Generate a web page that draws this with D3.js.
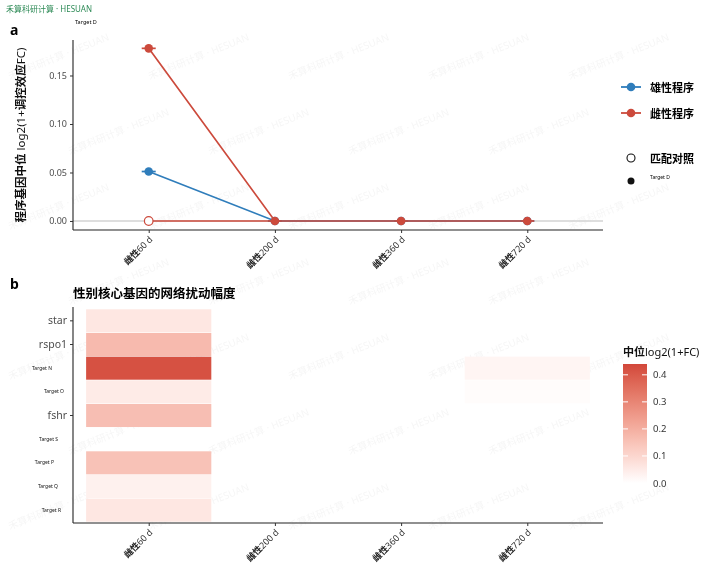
<!DOCTYPE html>
<html><head><meta charset="utf-8">
<script src="https://cdn.jsdelivr.net/npm/d3@7"></script>
<style>
body{margin:0;background:#fff;}
text{font-family:"Noto Sans","Noto Sans CJK SC",sans-serif;}
</style></head>
<body><svg id="c" width="720" height="571"></svg>
<script>
// ---------- data ----------
const timepoints = ["雌性60 d","雌性200 d","雌性360 d","雌性720 d"];
const maleValues = [0.051, 0, 0, 0];
const femaleValues = [0.178, 0, 0, 0];
const controlPoints = [{t:"雌性60 d", v:0}];
const yTicksTop = [0, 0.05, 0.10, 0.15];
const genes = ["star","rspo1","Target N","Target O","fshr","Target S","Target P","Target Q","Target R"];
const geneIsTarget = [false,false,true,true,false,true,true,true,true];
const heatCol1 = [0.06, 0.17, 0.42, 0.05, 0.16, null, 0.15, 0.035, 0.06]; // 雌性60 d
const heatCol4 = [null, null, 0.025, 0.008, null, null, null, null, null]; // 雌性720 d
const legendTicks = [0.0, 0.1, 0.2, 0.3, 0.4];
const seriesNames = ["雄性程序","雌性程序"];

// ---------- layout ----------
const svg = d3.select("#c");
const blue = "#2f7dbb", red = "#cc4a3c";
const L = 73, R = 603;

// watermark
const wm = svg.append("g").attr("opacity",0.07);
for (let r=0;r<7;r++){
  for (let c=0;c<5;c++){
    const x = 10 + c*140 + (r%2)*60, y = 80 + r*75;
    if (x + 120 > 715 || y > 565) continue;
    wm.append("text").attr("transform",`translate(${x},${y}) rotate(-22)`)
      .attr("font-size",10).attr("fill","#777").text("禾算科研计算 · HESUAN");
  }
}
svg.append("text").attr("x",6).attr("y",12).attr("font-size",8).attr("fill","#2e8b57").text("禾算科研计算 · HESUAN");

// ---------- panel a ----------
const x = d3.scalePoint().domain(timepoints).range([L,R]).padding(0.6);
const yA = d3.scaleLinear().domain([-0.0093,0.1866]).range([230,40]);

svg.append("text").attr("x",10).attr("y",35).attr("font-size",14).attr("font-weight","bold").text("a");
svg.append("text").attr("x",75).attr("y",24).attr("font-size",5.5).text("Target D");

const gA = svg.append("g");
gA.append("line").attr("x1",L).attr("x2",R).attr("y1",yA(0)).attr("y2",yA(0)).attr("stroke","#d3d3d3").attr("stroke-width",1.6);

const line = d3.line().x((d,i)=>x(timepoints[i])).y(d=>yA(d));
gA.append("path").datum(maleValues).attr("d",line).attr("fill","none").attr("stroke",blue).attr("stroke-width",1.7);
gA.append("path").datum(femaleValues).attr("d",line).attr("fill","none").attr("stroke",red).attr("stroke-width",1.7);
gA.append("line").attr("x1",x(timepoints[0])).attr("x2",x(timepoints[1])).attr("y1",yA(0)).attr("y2",yA(0)).attr("stroke",red).attr("stroke-width",1.7);

[[maleValues,blue],[femaleValues,red]].forEach(([vals,col])=>{
  vals.forEach((v,i)=>{
    const cx = x(timepoints[i]);
    gA.append("line").attr("x1",cx-7).attr("x2",cx+7).attr("y1",yA(v)).attr("y2",yA(v)).attr("stroke",col).attr("stroke-width",1.7);
    gA.append("circle").attr("cx",cx).attr("cy",yA(v)).attr("r",4.3).attr("fill",col);
  });
});
controlPoints.forEach(p=>{
  gA.append("circle").attr("cx",x(p.t)).attr("cy",yA(p.v)).attr("r",4.3).attr("fill","#fff").attr("stroke",red).attr("stroke-width",1.2);
});

const axA = svg.append("g").attr("transform",`translate(${L},0)`)
  .call(d3.axisLeft(yA).tickValues(yTicksTop).tickFormat(d3.format(".2f")).tickSize(3).tickPadding(3));
axA.select(".domain").attr("d",`M0,40V230`).attr("stroke","#222").attr("stroke-width",1.1);
axA.selectAll(".tick line").attr("stroke","#333");
axA.selectAll(".tick text").attr("font-size",9).attr("fill","#4d4d4d");

function xAxis(y0){
  const g = svg.append("g").attr("transform",`translate(0,${y0})`)
    .call(d3.axisBottom(x).tickSize(3).tickFormat(""));
  g.select(".domain").attr("d",`M${L},0H${R}`).attr("stroke","#222").attr("stroke-width",1.1);
  g.selectAll(".tick line").attr("stroke","#333");
  g.selectAll(".tick").each(function(d){
    const t = d3.select(this).append("text").attr("transform","translate(4,10) rotate(-45)")
      .attr("text-anchor","end").attr("font-size",9).attr("fill","#333");
    t.append("tspan").attr("font-weight","bold").attr("fill","#222").text(d.slice(0,2));
    t.append("tspan").text(d.slice(2));
  });
}
xAxis(230);

svg.append("text").attr("transform","translate(25,135) rotate(-90)").attr("text-anchor","middle")
  .attr("font-size",11.5).attr("fill","#111")
  .call(t=>{t.append("tspan").attr("font-weight","bold").text("程序基因中位 ");t.append("tspan").text("log2(1+");t.append("tspan").attr("font-weight","bold").text("调控效应");t.append("tspan").text("FC)");});

const lg = svg.append("g");
[blue,red].forEach((col,i)=>{
  const yy = 87 + i*26;
  lg.append("line").attr("x1",621).attr("x2",641).attr("y1",yy).attr("y2",yy).attr("stroke",col).attr("stroke-width",1.8);
  lg.append("circle").attr("cx",631).attr("cy",yy).attr("r",4.3).attr("fill",col);
  lg.append("text").attr("x",650).attr("y",yy+4.5).attr("font-size",11).attr("font-weight","bold").text(seriesNames[i]);
});
lg.append("circle").attr("cx",631).attr("cy",158).attr("r",4).attr("fill","#fff").attr("stroke","#111").attr("stroke-width",1.1);
lg.append("text").attr("x",650).attr("y",162.5).attr("font-size",11).attr("font-weight","bold").text("匹配对照");
lg.append("circle").attr("cx",631).attr("cy",181).attr("r",3.5).attr("fill","#111");
lg.append("text").attr("x",650).attr("y",179).attr("font-size",5).text("Target D");

// ---------- panel b ----------
svg.append("text").attr("x",10).attr("y",289).attr("font-size",14).attr("font-weight","bold").text("b");
svg.append("text").attr("x",73).attr("y",298).attr("font-size",12.5).attr("font-weight","bold").text("性别核心基因的网络扰动幅度");

const yB = d3.scaleBand().domain(genes).range([309,522]);
const color = d3.scaleLinear().domain([0,0.44]).range(["#ffffff","#d2473a"]).interpolate(d3.interpolateLab);
const bw = x.step();
const gB = svg.append("g");
[[heatCol1,0],[heatCol4,3]].forEach(([vals,ci])=>{
  vals.forEach((v,i)=>{
    if (v===null) return;
    gB.append("rect").attr("x",x(timepoints[ci])-bw/2+0.5).attr("width",bw-1)
      .attr("y",yB(genes[i])+0.3).attr("height",yB.bandwidth()-0.6).attr("fill",color(v));
  });
});

const axB = svg.append("g").attr("transform",`translate(${L},0)`)
  .call(d3.axisLeft(yB).tickSize(3).tickPadding(3));
axB.select(".domain").attr("d",`M0,307V523`).attr("stroke","#222").attr("stroke-width",1.1);
const targetX = [0,0,-21,-9,0,-15,-19,-15,-12];
axB.selectAll(".tick").each(function(d){
  const i = genes.indexOf(d);
  const s = d3.select(this);
  if (geneIsTarget[i]){
    s.select("line").remove();
    s.select("text").attr("font-size",5).attr("fill","#111").attr("x",targetX[i]);
  } else {
    s.select("line").attr("stroke","#333");
    s.select("text").attr("font-size",10.5).attr("fill","#4d4d4d");
  }
});
xAxis(523);

const lgB = svg.append("g");
lgB.append("text").attr("x",623).attr("y",356).attr("font-size",11).attr("font-weight","bold").attr("fill","#111")
  .call(t=>{t.append("tspan").text("中位");t.append("tspan").attr("font-weight","normal").text("log2(1+FC)");});
const yL = d3.scaleLinear().domain([0,0.44]).range([483,364]);
const defs = svg.append("defs");
const grad = defs.append("linearGradient").attr("id","gr").attr("x1",0).attr("x2",0).attr("y1",1).attr("y2",0);
d3.range(0,1.01,0.1).forEach(f=>grad.append("stop").attr("offset",f).attr("stop-color",color(f*0.44)));
lgB.append("rect").attr("x",623).attr("y",364).attr("width",24).attr("height",119).attr("fill","url(#gr)");
legendTicks.forEach(v=>{
  lgB.append("line").attr("x1",623).attr("x2",628).attr("y1",yL(v)).attr("y2",yL(v)).attr("stroke","#fff").attr("stroke-width",1);
  lgB.append("line").attr("x1",642).attr("x2",647).attr("y1",yL(v)).attr("y2",yL(v)).attr("stroke","#fff").attr("stroke-width",1);
  lgB.append("text").attr("x",653).attr("y",yL(v)+3.5).attr("font-size",9.5).attr("fill","#333").text(v.toFixed(1));
});
</script></body></html>
